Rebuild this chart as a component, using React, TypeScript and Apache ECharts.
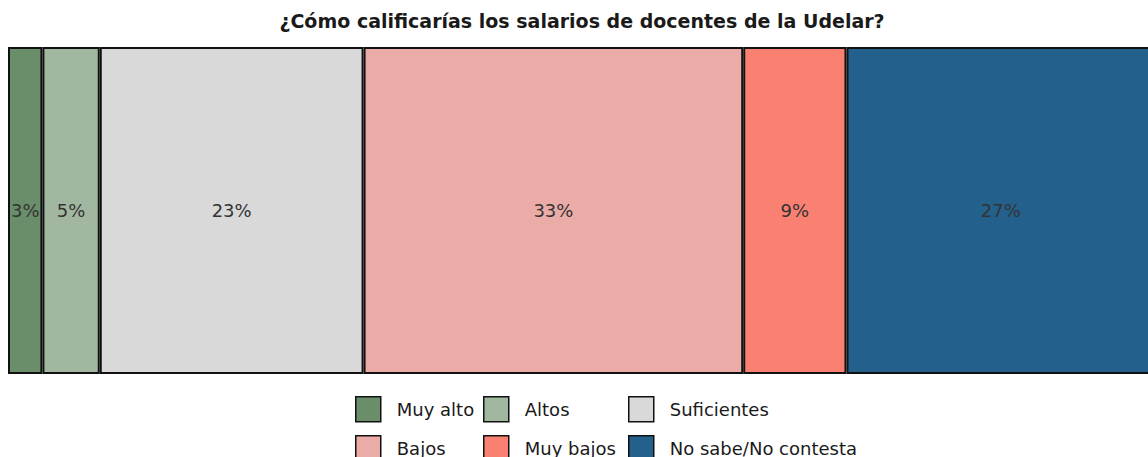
import React, { useEffect, useRef } from "react";
import * as echarts from "echarts";

const titleText = "¿Cómo calificarías los salarios de docentes de la Udelar?";
const categories = ["Muy alto", "Altos", "Suficientes", "Bajos", "Muy bajos", "No sabe/No contesta"];
const values = [3, 5, 23, 33.1, 9, 26.9];
const colors = ["#6b8e6a", "#a1b7a0", "#d9d9d9", "#ebaca8", "#fa8072", "#23608b"];
const barCategory = ["Udelar"];

// legend layout (ggplot-like 2 rows x 3 columns)
const legendCols = [355, 483, 628];
const legendRows = [396, 435];

const FONT = "DejaVu Sans, Liberation Sans, Arial, sans-serif";

export default function App() {
  const ref = useRef<HTMLDivElement>(null);
  useEffect(() => {
    if (!ref.current) return;
    const chart = echarts.init(ref.current, null, { renderer: "svg" });
    const series = categories.map((name, i) => ({
      name,
      type: "bar",
      stack: "total",
      barWidth: "100%",
      data: [values[i]],
      itemStyle: { color: colors[i], borderColor: "#111", borderWidth: 2 },
      label: {
        show: true,
        position: "inside",
        formatter: (p: any) => Math.round(p.value) + "%",
        color: "#333",
        fontSize: 18,
        fontFamily: FONT,
      },
    }));
    const legends = categories.map((name, i) => ({
      data: [name],
      left: legendCols[i % 3],
      top: legendRows[Math.floor(i / 3)],
      padding: 0,
      itemWidth: 25,
      itemHeight: 25,
      icon: "rect",
      selectedMode: false,
      itemStyle: { borderColor: "#111", borderWidth: 1.5 },
      textStyle: {
        fontSize: 18,
        color: "#1a1a1a",
        fontFamily: FONT,
        padding: [0, 0, 0, 11],
      },
    }));
    chart.setOption({
      animation: false,
      title: {
        text: titleText,
        left: 577,
        textAlign: "center",
        top: 6,
        textStyle: {
          fontSize: 19,
          fontWeight: "bold",
          color: "#1a1a1a",
          fontFamily: FONT,
        },
      },
      legend: legends,
      grid: { left: 8, right: 8, top: 47, bottom: 83, containLabel: false },
      xAxis: {
        type: "value",
        min: 0,
        max: 100,
        show: false,
      },
      yAxis: {
        type: "category",
        data: barCategory,
        show: false,
      },
      series,
    });
    return () => chart.dispose();
  }, []);
  return (
    <div style={{ position: "absolute", left: 0, top: 0, width: 1148, height: 457, overflow: "hidden", background: "#fff" }}>
      <div ref={ref} style={{ position: "absolute", left: 0, top: 0, width: 1163, height: 457 }} />
    </div>
  );
}
